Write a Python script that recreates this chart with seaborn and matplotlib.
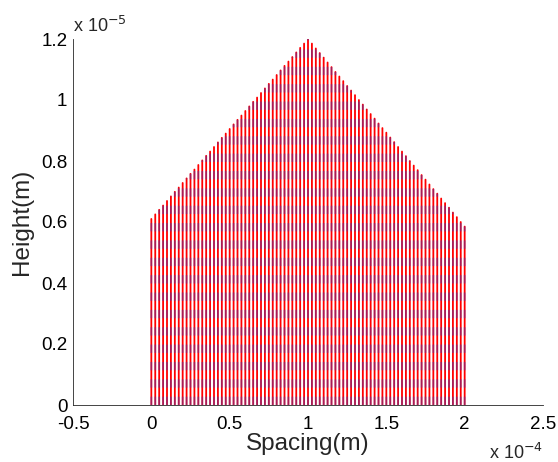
import numpy as np
import pandas as pd
import matplotlib
matplotlib.use("Agg")
import matplotlib.pyplot as plt
from matplotlib.ticker import FuncFormatter
import seaborn as sns

# Element positions along the span (m) and their heights (in units of 1e-5 m)
spacing_m = np.arange(0, 2.0e-4 + 1e-9, 2.5e-6)
height_e5 = [
    0.610, 0.625, 0.640, 0.654, 0.669, 0.684, 0.699, 0.713, 0.728, 0.743,
    0.758, 0.772, 0.787, 0.802, 0.817, 0.831, 0.846, 0.861, 0.876, 0.890,
    0.905, 0.920, 0.935, 0.949, 0.964, 0.979, 0.994, 1.008, 1.023, 1.038,
    1.053, 1.067, 1.082, 1.097, 1.112, 1.126, 1.141, 1.156, 1.171, 1.185,
    1.200,
    1.185, 1.169, 1.154, 1.139, 1.123, 1.108, 1.092, 1.077, 1.062, 1.046,
    1.031, 1.016, 1.000, 0.985, 0.969, 0.954, 0.939, 0.923, 0.908, 0.893,
    0.877, 0.862, 0.846, 0.831, 0.816, 0.800, 0.785, 0.770, 0.754, 0.739,
    0.723, 0.708, 0.693, 0.677, 0.662, 0.647, 0.631, 0.616, 0.600, 0.585,
]
x_ticks = [-0.5, 0, 0.5, 1, 1.5, 2, 2.5]          # x 1e-4
y_ticks = [0, 0.2, 0.4, 0.6, 0.8, 1.0, 1.2]       # x 1e-5

RED = "#ff0000"
BLUE = "#3c3cc0"

# Each element is a vertical segment from the base up to its height,
# traced once solid (red) and once dashed (blue).
rows = []
for i, (x, h) in enumerate(zip(spacing_m, height_e5)):
    for kind in ("solid", "dashed"):
        rows.append({"id": f"{kind}{i}", "kind": kind, "x": x, "y": 0.0})
        rows.append({"id": f"{kind}{i}", "kind": kind, "x": x, "y": h * 1e-5})
segments = pd.DataFrame(rows)

sns.set_style("white")
plt.rcParams["font.family"] = ["Liberation Sans", "DejaVu Sans"]
plt.rcParams["lines.scale_dashes"] = False

fig = plt.figure(figsize=(5.58, 4.62), dpi=100)
ax = fig.add_axes([73 / 558, 57 / 462, 470 / 558, 366 / 462])

sns.lineplot(
    data=segments, x="x", y="y", units="id", estimator=None, sort=False,
    hue="kind", palette={"solid": RED, "dashed": BLUE},
    style="kind", dashes={"solid": "", "dashed": (6.0, 6.5)},
    linewidth=1.3, ax=ax, legend=False,
)
for line in ax.get_lines():
    line.set_snap(False)
    if matplotlib.colors.to_hex(line.get_color()) == BLUE:
        line.set_alpha(0.45)

ax.set_xlim(-0.5e-4, 2.5e-4)
ax.set_ylim(0, 1.2e-5)
ax.set_xticks([t * 1e-4 for t in x_ticks])
ax.set_yticks([t * 1e-5 for t in y_ticks])
ax.xaxis.set_major_formatter(FuncFormatter(lambda v, p: f"{v / 1e-4:g}"))
ax.yaxis.set_major_formatter(FuncFormatter(lambda v, p: f"{v / 1e-5:g}"))
ax.tick_params(axis="both", labelsize=13.5, direction="in", length=3,
               width=0.6, colors="black")
ax.tick_params(axis="y", pad=4)
ax.tick_params(axis="x", pad=8)
sns.despine(ax=ax)
for side in ("left", "bottom"):
    ax.spines[side].set_linewidth(0.6)
    ax.spines[side].set_color("#262626")

ax.set_xlabel("Spacing(m)", fontsize=17.5)
ax.set_ylabel("Height(m)", fontsize=17.5)
ax.xaxis.set_label_coords(0.5, -0.077)
ax.yaxis.set_label_coords(-0.086, 0.5)

fig.text(73 / 558, 1 - 26 / 462, r"x 10$^{-5}$", fontsize=13,
         ha="left", va="center")
fig.text(489 / 558, 1 - 453 / 462, r"x 10$^{-4}$", fontsize=13,
         ha="left", va="center")

fig.savefig("out.png", dpi=100)
